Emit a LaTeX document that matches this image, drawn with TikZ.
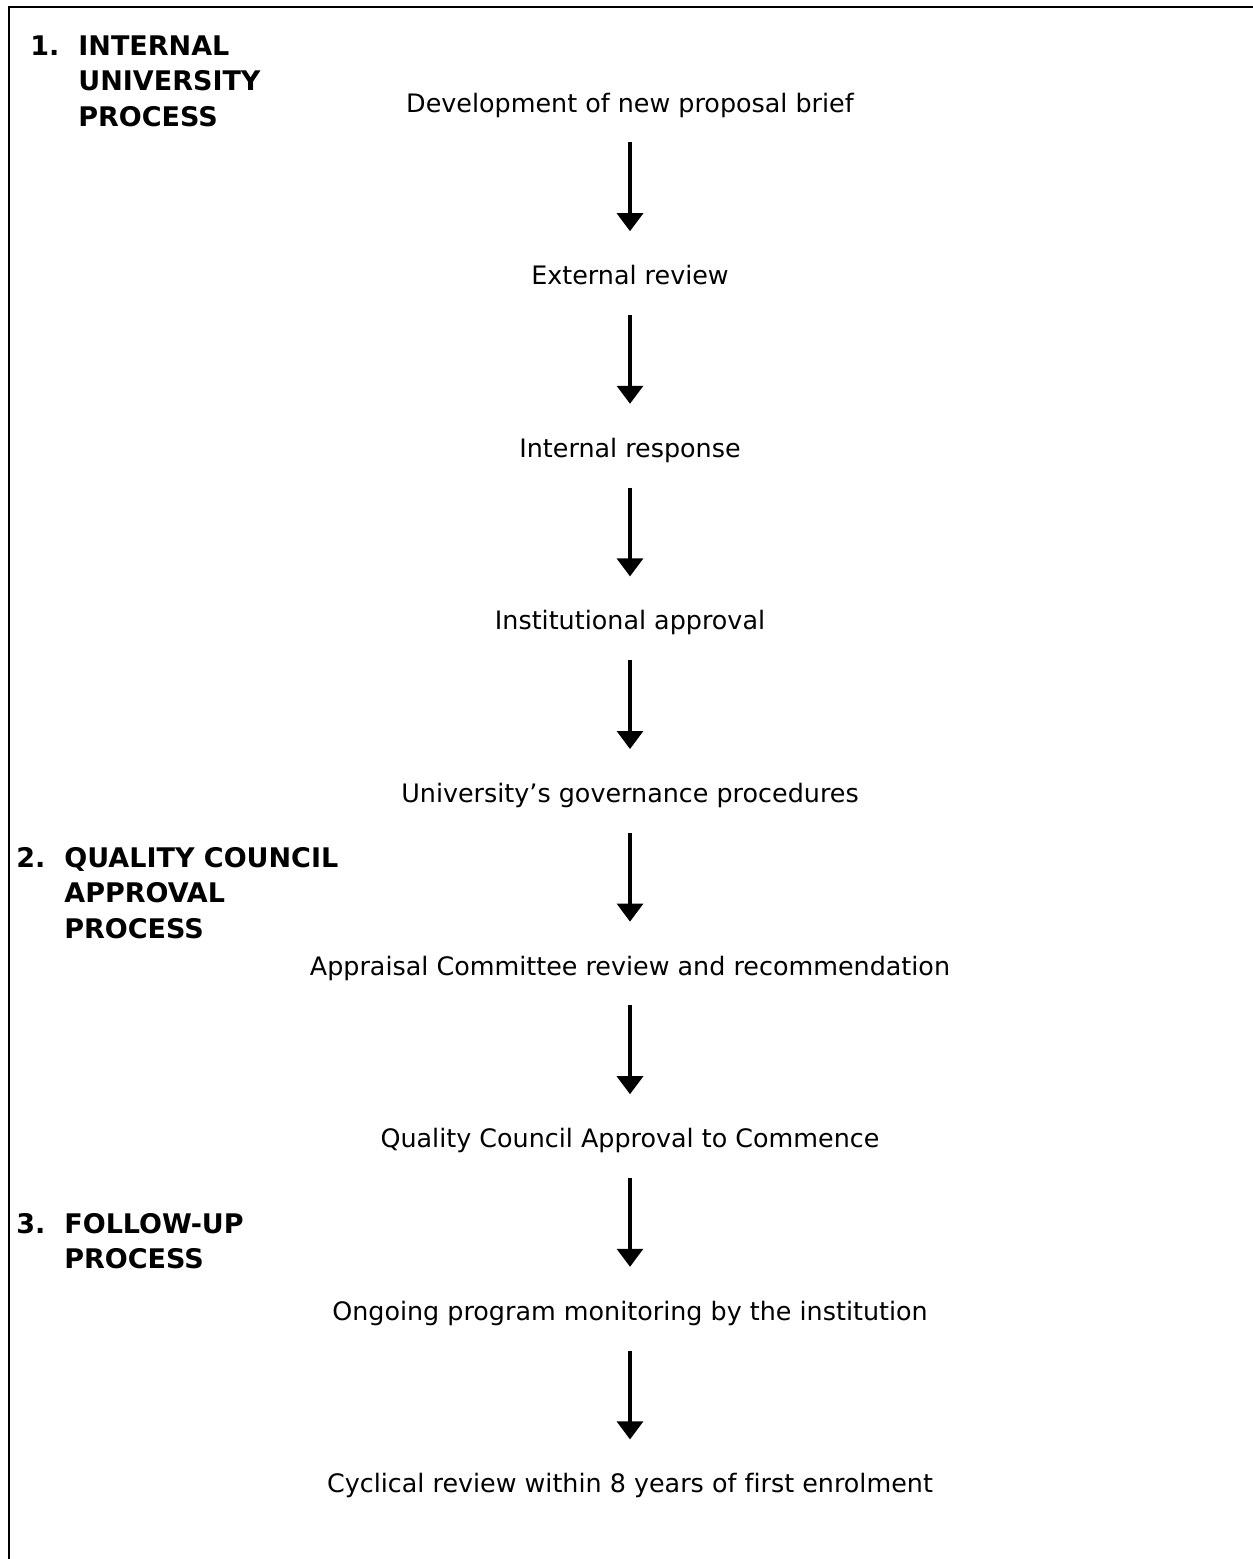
\documentclass[tikz,border=0pt]{standalone}
\usepackage{fontspec}
\setmainfont{DejaVu Sans}[Ligatures=NoCommon]
\usetikzlibrary{arrows.meta,positioning}

\begin{document}
\begin{tikzpicture}[x=0.5pt,y=-0.5pt,node distance=86.3pt,
    stage/.style={inner sep=0pt,text height=9.5pt,text depth=3pt,font=\fontsize{12.7}{15}\selectfont},
    phase/.style={anchor=base west,inner sep=0pt,font=\fontsize{13.5}{17.75}\selectfont\bfseries},
    flow/.style={-{Triangle[width=13pt,length=9pt]},line width=1.6pt,shorten <=12pt,shorten >=17pt}]
    \useasboundingbox (0,0) rectangle (1253,1559);
    \draw[line width=1.3pt] (9,1559) -- (9,7) -- (1253,7);

    % phases
    \node[phase] (p1) at (30,55) {\begin{tabular}[t]{@{}p{24pt}@{}l@{}}1. & INTERNAL\\ & UNIVERSITY\\ & PROCESS\end{tabular}};
    \node[phase] (p2) at (16,867) {\begin{tabular}[t]{@{}p{24pt}@{}l@{}}2. & QUALITY COUNCIL\\ & APPROVAL\\ & PROCESS\end{tabular}};
    \node[phase] (p3) at (16,1233) {\begin{tabular}[t]{@{}p{24pt}@{}l@{}}3. & FOLLOW-UP\\ & PROCESS\end{tabular}};

    % steps
    \node[stage,anchor=base] (brief) at (630,112) {Development of new proposal brief};
    \node[stage] (ext) [below of=brief] {External review};
    \node[stage] (resp) [below of=ext] {Internal response};
    \node[stage] (inst) [below of=resp] {Institutional approval};
    \node[stage] (gov) [below of=inst] {University’s governance procedures};
    \node[stage] (appr) [below of=gov] {Appraisal Committee review and recommendation};
    \node[stage] (qc) [below of=appr] {Quality Council Approval to Commence};
    \node[stage] (mon) [below of=qc] {Ongoing program monitoring by the institution};
    \node[stage] (cyc) [below of=mon] {Cyclical review within 8 years of first enrolment};

    \path[flow]
    (brief) edge (ext)
    (ext) edge (resp)
    (resp) edge (inst)
    (inst) edge (gov)
    (gov) edge (appr)
    (appr) edge (qc)
    (qc) edge (mon)
    (mon) edge (cyc);
\end{tikzpicture}
\end{document}
